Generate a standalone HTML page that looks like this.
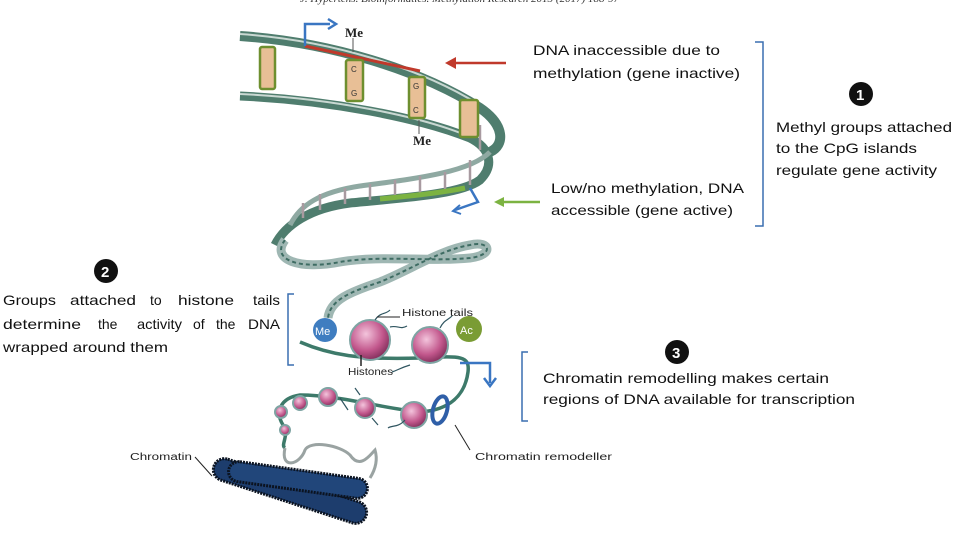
<!DOCTYPE html>
<html><head><meta charset="utf-8"><style>
html,body{margin:0;padding:0;background:#fff;width:960px;height:540px;overflow:hidden}
svg{display:block}
.t{font-family:"Liberation Sans",sans-serif;font-size:14px;fill:#111}
.s{font-family:"Liberation Sans",sans-serif;font-size:10px;fill:#222}
</style></head><body>
<svg width="960" height="540" viewBox="0 0 960 540" xmlns="http://www.w3.org/2000/svg">
<text x="300" y="2" font-family="Liberation Serif,serif" font-style="italic" font-size="11" fill="#333">J. Hypertens. Bioinformatics. Methylation Research 2013 (2017) 188-97</text>
<path d="M240,36 C330,42 420,70 480,108 C505,125 505,145 490,152" fill="none" stroke="#4f7d6e" stroke-width="10"/>
<path d="M240,34 C330,40 420,68 478,104" fill="none" stroke="#c9d8d2" stroke-width="2"/>
<path d="M240,96 C330,100 420,118 470,138 C490,148 495,165 480,180 C460,195 400,198 350,203 C310,208 285,225 275,245" fill="none" stroke="#4f7d6e" stroke-width="9"/>
<path d="M240,94 C330,98 420,116 468,136" fill="none" stroke="#c9d8d2" stroke-width="2"/>
<path d="M490,152 C470,172 420,178 360,186 C320,192 300,205 290,225" fill="none" stroke="#8fa9a2" stroke-width="5"/>
<g stroke="#a89aa0" stroke-width="2.5">
<line x1="480" y1="125" x2="480" y2="150"/><line x1="470" y1="160" x2="470" y2="185"/>
<line x1="445" y1="172" x2="445" y2="190"/><line x1="420" y1="176" x2="420" y2="194"/>
<line x1="395" y1="180" x2="395" y2="197"/><line x1="370" y1="184" x2="370" y2="200"/>
<line x1="345" y1="188" x2="345" y2="204"/><line x1="320" y1="194" x2="320" y2="210"/>
<line x1="303" y1="203" x2="303" y2="218"/>
</g>
<path d="M380,199 C410,196 440,193 465,188" fill="none" stroke="#7cb342" stroke-width="5"/>
<line x1="305" y1="46" x2="420" y2="71" stroke="#c0392b" stroke-width="3"/>
<g fill="#e8bf96" stroke="#6e8f2f" stroke-width="2.5">
<rect x="260" y="47" width="15" height="42" rx="2"/>
<rect x="346" y="60" width="17" height="41" rx="2"/>
<rect x="409" y="77" width="16" height="41" rx="2"/>
<rect x="460" y="100" width="18" height="37" rx="2"/>
</g>
<g font-family="Liberation Sans,sans-serif" font-size="8" fill="#333">
<text x="351" y="72">C</text><text x="351" y="96">G</text><text x="413" y="89">G</text><text x="413" y="113">C</text></g>
<text x="345" y="37" font-family="Liberation Serif,serif" font-weight="bold" font-size="13" fill="#222">Me</text>
<line x1="353" y1="38" x2="353" y2="52" stroke="#555"/>
<text x="413" y="145" font-family="Liberation Serif,serif" font-weight="bold" font-size="13" fill="#222">Me</text>
<line x1="419" y1="120" x2="419" y2="134" stroke="#555"/>
<path d="M305,46 V24 H330" fill="none" stroke="#3a76c2" stroke-width="2.5"/>
<path d="M328,19 L336,24 L328,29" fill="none" stroke="#3a76c2" stroke-width="2.5"/>
<path d="M470,188 L478,202 L455,210" fill="none" stroke="#3a76c2" stroke-width="2.5"/>
<path d="M460,205 L453,211 L461,214" fill="none" stroke="#3a76c2" stroke-width="2"/>
<line x1="506" y1="63" x2="448" y2="63" stroke="#c0392b" stroke-width="2.5"/>
<path d="M456,57 L445,63 L456,69" fill="#c0392b"/>
<line x1="540" y1="202" x2="497" y2="202" stroke="#7cb342" stroke-width="2.5"/>
<path d="M504,197 L494,202 L504,207" fill="#7cb342"/>
<path d="M285,240 C270,260 300,270 340,262 C380,255 430,262 470,258 C495,255 490,240 470,245 C440,250 410,270 380,282 C350,292 330,300 328,318" fill="none" stroke="#9fb7b3" stroke-width="9"/>
<path d="M285,240 C270,260 300,270 340,262 C380,255 430,262 470,258 C495,255 490,240 470,245 C440,250 410,270 380,282 C350,292 330,300 328,318" fill="none" stroke="#3e6c63" stroke-width="2" stroke-dasharray="4 3"/>
<path d="M300,342 C330,355 360,360 420,358 C460,356 470,355 468,372 C465,395 450,410 420,412 C380,408 340,395 300,395 C280,398 275,412 283,425 C290,435 280,445 285,448" fill="none" stroke="#3d7a6a" stroke-width="3.5"/>
<path d="M285,448 C280,470 300,465 305,450 C310,440 340,445 350,455 C360,470 370,455 375,450 C378,460 375,470 370,478" fill="none" stroke="#9aa3a2" stroke-width="3"/>
<defs><radialGradient id="p" cx="0.4" cy="0.35" r="0.7"><stop offset="0" stop-color="#f3c4dc"/><stop offset="0.6" stop-color="#c2578c"/><stop offset="1" stop-color="#7a2a55"/></radialGradient></defs>
<g stroke="#7ea4a3" stroke-width="2">
<circle cx="370" cy="340" r="20" fill="url(#p)"/>
<circle cx="430" cy="345" r="18" fill="url(#p)"/>
<circle cx="300" cy="403" r="7" fill="url(#p)"/><circle cx="328" cy="397" r="9" fill="url(#p)"/>
<circle cx="365" cy="408" r="10" fill="url(#p)"/><circle cx="414" cy="415" r="13" fill="url(#p)"/>
<circle cx="281" cy="412" r="6" fill="url(#p)"/><circle cx="285" cy="430" r="5" fill="url(#p)"/>
</g>
<g stroke="#2f5560" stroke-width="1.2" fill="none">
<path d="M375,320 C380,312 385,315 390,310"/><path d="M390,327 C398,325 400,330 407,326"/>
<path d="M410,365 C400,368 398,370 392,372"/><path d="M440,328 C444,320 448,320 452,316"/>
<path d="M360,395 L355,388"/><path d="M405,420 C398,428 392,425 388,428"/>
<path d="M340,398 L348,410"/><path d="M372,418 L378,425"/>
</g>
<circle cx="325" cy="330" r="12" fill="#3f7dc0"/>
<text x="315" y="335" font-family="Liberation Sans,sans-serif" font-size="11" fill="#fff">Me</text>
<circle cx="469" cy="329" r="13" fill="#7a9c34"/>
<text x="460" y="334" font-family="Liberation Sans,sans-serif" font-size="11" fill="#fff">Ac</text>
<line x1="377" y1="317" x2="400" y2="317" stroke="#222" stroke-width="1"/>
<text x="402" y="316" class="s" textLength="71" lengthAdjust="spacingAndGlyphs">Histone tails</text>
<line x1="361" y1="355" x2="361" y2="366" stroke="#222" stroke-width="1.5"/>
<text x="348" y="375" class="s" textLength="45" lengthAdjust="spacingAndGlyphs">Histones</text>
<path d="M460,363 H490 V383" fill="none" stroke="#3a76c2" stroke-width="2.5"/>
<path d="M484,378 L490,386 L496,378" fill="none" stroke="#3a76c2" stroke-width="2.5"/>
<ellipse cx="440" cy="410" rx="7" ry="14" fill="none" stroke="#2f5fa8" stroke-width="4" transform="rotate(15 440 410)"/>
<line x1="455" y1="425" x2="470" y2="450" stroke="#222" stroke-width="1"/>
<text x="475" y="460" class="s" textLength="137" lengthAdjust="spacingAndGlyphs">Chromatin remodeller</text>
<rect x="210" y="480" width="160" height="22" rx="11" fill="#1d3d6d" stroke="#0b1320" stroke-width="3" stroke-dasharray="2 1" transform="rotate(18 290 491)"/>
<rect x="228" y="470" width="140" height="20" rx="10" fill="#21467a" stroke="#0b1320" stroke-width="3" stroke-dasharray="2 1" transform="rotate(8 298 480)"/>
<line x1="195" y1="457" x2="212" y2="476" stroke="#222" stroke-width="1"/>
<text x="130" y="460" class="s" textLength="62" lengthAdjust="spacingAndGlyphs">Chromatin</text>
<text x="533" y="55" class="t" textLength="187" lengthAdjust="spacingAndGlyphs">DNA inaccessible due to</text>
<text x="533" y="78" class="t" textLength="207" lengthAdjust="spacingAndGlyphs">methylation (gene inactive)</text>
<path d="M755,42 H763 V226 H755" fill="none" stroke="#3a6fb0" stroke-width="1.5"/>
<circle cx="861" cy="94" r="12" fill="#111"/>
<text x="856" y="100" font-family="Liberation Sans,sans-serif" font-weight="bold" font-size="15" fill="#fff">1</text>
<text x="776" y="132" class="t" textLength="176" lengthAdjust="spacingAndGlyphs">Methyl groups attached</text>
<text x="776" y="153" class="t" textLength="141" lengthAdjust="spacingAndGlyphs">to the CpG islands</text>
<text x="776" y="175" class="t" textLength="161" lengthAdjust="spacingAndGlyphs">regulate gene activity</text>
<text x="551" y="193" class="t" textLength="193" lengthAdjust="spacingAndGlyphs">Low/no methylation, DNA</text>
<text x="551" y="215" class="t" textLength="182" lengthAdjust="spacingAndGlyphs">accessible (gene active)</text>
<circle cx="106" cy="271" r="12" fill="#111"/>
<text x="101" y="277" font-family="Liberation Sans,sans-serif" font-weight="bold" font-size="15" fill="#fff">2</text>
<text x="3" y="305" class="t" textLength="53" lengthAdjust="spacingAndGlyphs">Groups</text><text x="70" y="305" class="t" textLength="66" lengthAdjust="spacingAndGlyphs">attached</text><text x="150" y="305" class="t">to</text><text x="178" y="305" class="t" textLength="56" lengthAdjust="spacingAndGlyphs">histone</text><text x="253" y="305" class="t" textLength="27" lengthAdjust="spacingAndGlyphs">tails</text>
<text x="3" y="329" class="t" textLength="78" lengthAdjust="spacingAndGlyphs">determine</text><text x="98" y="329" class="t">the</text><text x="137" y="329" class="t" textLength="45" lengthAdjust="spacingAndGlyphs">activity</text><text x="193" y="329" class="t">of</text><text x="216" y="329" class="t">the</text><text x="248" y="329" class="t" textLength="32" lengthAdjust="spacingAndGlyphs">DNA</text>
<text x="3" y="352" class="t" textLength="165" lengthAdjust="spacingAndGlyphs">wrapped around them</text>
<path d="M294,294 H288 V365 H294" fill="none" stroke="#3a6fb0" stroke-width="1.5"/>
<circle cx="677" cy="352" r="12" fill="#111"/>
<text x="672" y="358" font-family="Liberation Sans,sans-serif" font-weight="bold" font-size="15" fill="#fff">3</text>
<text x="543" y="383" class="t" textLength="286" lengthAdjust="spacingAndGlyphs">Chromatin remodelling makes certain</text>
<text x="543" y="404" class="t" textLength="312" lengthAdjust="spacingAndGlyphs">regions of DNA available for transcription</text>
<path d="M528,352 H522 V421 H528" fill="none" stroke="#3a6fb0" stroke-width="1.5"/>
</svg>
</body></html>
